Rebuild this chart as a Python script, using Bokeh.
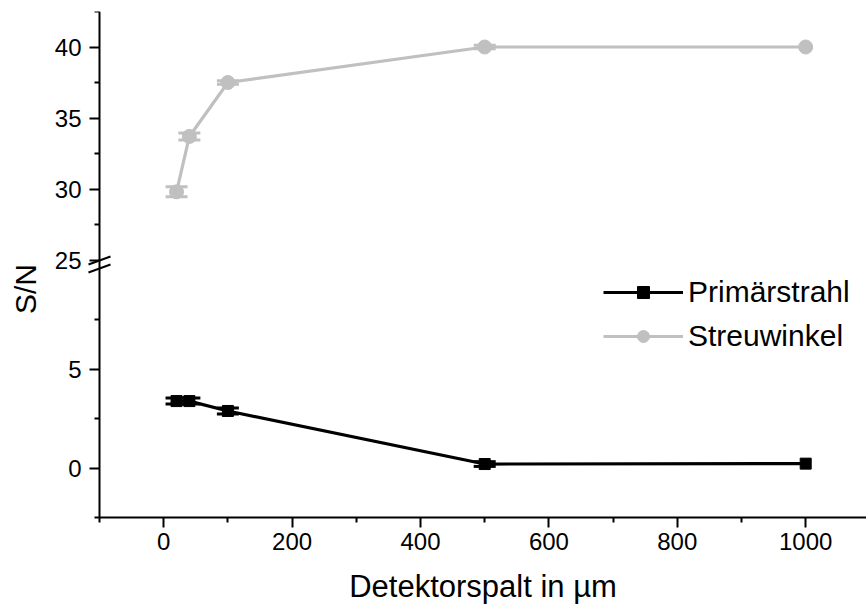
import math

from bokeh.embed import file_html
from bokeh.models import (ColumnDataSource, FixedTicker, Label, Legend, LegendItem,
                          LinearAxis, Range1d, TeeHead, Whisker)
from bokeh.plotting import figure
from bokeh.resources import INLINE

# Detector slit width (µm)
slit_um = [20, 40, 100, 500, 1000]

# S/N measured on the primary beam
primary_sn = [3.38, 3.38, 2.88, 0.20, 0.22]
primary_err = [0.15, 0.15, 0.15, 0.12, 0.0]

# S/N measured at the scattering angle
scatter_sn = [29.8, 33.7, 37.5, 40.0, 40.0]
scatter_err = [0.35, 0.25, 0.12, 0.12, 0.0]

# Tick positions
x_major = [0, 200, 400, 600, 800, 1000]
x_minor = [-100, 100, 300, 500, 700, 900]
upper_major = [25, 30, 35, 40]
upper_minor = [27.5, 32.5, 37.5, 42.5]
lower_major = [0, 5]
lower_minor = [2.5, 7.5]

FONT = "Liberation Sans"
GRAY = "#C0C0C0"
BLACK = "#000000"

# Page geometry in px.  The frame covers the whole page below the top margin;
# all axes are pinned at fixed data locations so that their ticks, labels and
# the titles stay inside the frame.
W, H = 866, 607
FRAME_T = 11
AXIS_X_PX = 99          # where x = -100 sits
AXIS_Y_PX = 517         # where the lower scale reaches -2.5
PX_PER_UM = 0.642
PX_PER_UNIT_LOW = 19.8  # lower panel (primary beam)
PX_PER_UNIT_UP = 14.2   # upper panel (scattering angle)

X_AXIS_AT = -100
Y_AXIS_AT = -2.5
x_start = X_AXIS_AT - AXIS_X_PX / PX_PER_UM
x_end = x_start + W / PX_PER_UM
low_start = Y_AXIS_AT - (H - AXIS_Y_PX) / PX_PER_UNIT_LOW
low_end = Y_AXIS_AT + (AXIS_Y_PX - FRAME_T) / PX_PER_UNIT_LOW
up_end = 42.5
up_start = up_end - (H - FRAME_T) / PX_PER_UNIT_UP


def px_x(px):
    return x_start + px / PX_PER_UM


def px_y(py):
    return Y_AXIS_AT + (AXIS_Y_PX - py) / PX_PER_UNIT_LOW


p = figure(width=W, height=H, x_range=Range1d(x_start, x_end),
           y_range=Range1d(low_start, low_end), output_backend="svg",
           toolbar_location=None, title=None,
           min_border_left=0, min_border_right=0,
           min_border_top=FRAME_T, min_border_bottom=0)
p.extra_y_ranges = {"upper": Range1d(up_start, up_end)}
p.outline_line_color = None
p.grid.visible = False

upper_axis = LinearAxis(y_range_name="upper")
p.add_layout(upper_axis, "left")

for ax in p.axis:
    ax.axis_line_width = 2
    ax.axis_line_color = BLACK
    ax.major_tick_line_width = 2
    ax.minor_tick_line_width = 2
    ax.major_tick_out = 10
    ax.major_tick_in = 0
    ax.minor_tick_out = 5
    ax.minor_tick_in = 0
    ax.major_label_text_font = FONT
    ax.major_label_text_font_size = "24px"
    ax.major_label_text_color = BLACK

lower_axis = p.yaxis[0]
lower_axis.ticker = FixedTicker(ticks=lower_major, minor_ticks=lower_minor)
upper_axis.ticker = FixedTicker(ticks=upper_major, minor_ticks=upper_minor)
for ax in (lower_axis, upper_axis):
    ax.fixed_location = X_AXIS_AT
    ax.major_label_standoff = 8
# the y-axis line should stop at the x axis
lower_axis.axis_line_color = None
upper_axis.axis_line_color = None
p.segment(x0=[X_AXIS_AT], y0=[Y_AXIS_AT], x1=[X_AXIS_AT], y1=[low_end],
          line_color=BLACK, line_width=2)

p.xaxis.ticker = FixedTicker(ticks=x_major, minor_ticks=x_minor)
p.xaxis.fixed_location = Y_AXIS_AT
p.xaxis.major_label_standoff = 5
# the x-axis line starts just left of the y axis
p.xaxis.axis_line_color = None
p.segment(x0=[px_x(94)], y0=[Y_AXIS_AT], x1=[x_end], y1=[Y_AXIS_AT],
          line_color=BLACK, line_width=2)

prim = ColumnDataSource(dict(x=slit_um, y=primary_sn))
scat = ColumnDataSource(dict(x=slit_um, y=scatter_sn))


def err_source(xs, ys, es):
    keep = [i for i, e in enumerate(es) if e > 0]
    return ColumnDataSource(dict(
        x=[xs[i] for i in keep],
        lo=[ys[i] - es[i] for i in keep],
        hi=[ys[i] + es[i] for i in keep],
    ))


def add_series(src, err_src, color, marker, size, range_name="default"):
    p.add_layout(Whisker(source=err_src, base="x", lower="lo", upper="hi",
                         y_range_name=range_name, line_color=color, line_width=3,
                         lower_head=TeeHead(size=22, line_color=color, line_width=3),
                         upper_head=TeeHead(size=22, line_color=color, line_width=3)))
    ln = p.line("x", "y", source=src, line_color=color, line_width=3.2,
                y_range_name=range_name)
    mk = p.scatter("x", "y", source=src, marker=marker, size=size,
                   fill_color=color, line_color=color, y_range_name=range_name)
    return ln, mk


sl, sm = add_series(scat, err_source(slit_um, scatter_sn, scatter_err), GRAY, "circle", 14, "upper")
pl, pm = add_series(prim, err_source(slit_um, primary_sn, primary_err), BLACK, "square", 11)

legend = Legend(items=[LegendItem(label="Primärstrahl", renderers=[pl, pm]),
                       LegendItem(label="Streuwinkel", renderers=[sl, sm])],
                location=(603, H - 353), glyph_width=80, glyph_height=30,
                label_height=30, spacing=10, padding=0, label_standoff=5,
                border_line_color=None, background_fill_alpha=0,
                label_text_font=FONT, label_text_font_size="30px",
                label_text_color=BLACK)
p.add_layout(legend)

# Axis-break marks: two parallel slashes across the y axis between the panels
slash_px = [((88, 264), (110, 256)), ((88, 272), (110, 264))]
p.multi_line(xs=[[px_x(a[0]), px_x(b[0])] for a, b in slash_px],
             ys=[[px_y(a[1]), px_y(b[1])] for a, b in slash_px],
             line_color=BLACK, line_width=2)

# Axis titles
p.add_layout(Label(x=px_x(25), y=px_y(288.5), text="S/N", angle=math.pi / 2,
                   text_align="center", text_baseline="middle",
                   text_font=FONT, text_font_size="30px", text_color=BLACK))
p.add_layout(Label(x=px_x(482.5), y=px_y(586), text="Detektorspalt in µm",
                   text_align="center", text_baseline="middle",
                   text_font=FONT, text_font_size="31px", text_color=BLACK))

open("out.html", "w").write(file_html(p, INLINE))
